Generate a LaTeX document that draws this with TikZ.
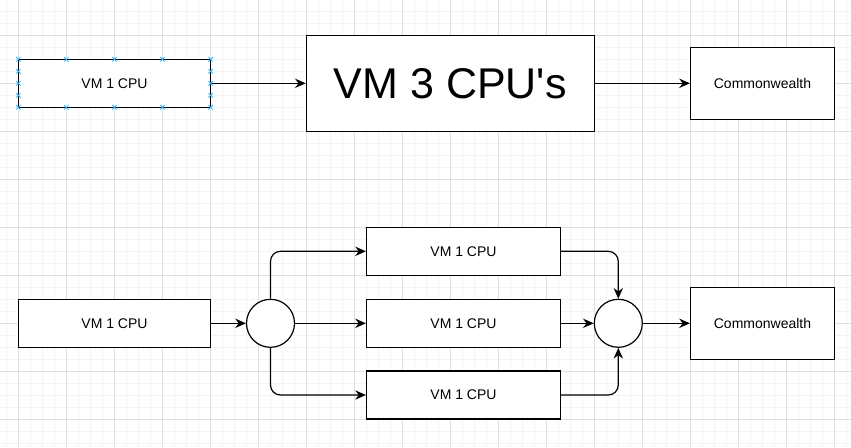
\documentclass[tikz,border=0pt]{standalone}
\usepackage{fontspec}
\setmainfont{Liberation Sans}[Ligatures=TeXOff]
\newfontfamily\arialfont{Liberation Sans}[Ligatures=TeXOff]
\usetikzlibrary{arrows.meta}
\definecolor{gridminor}{HTML}{F4F4F4}
\definecolor{gridmajor}{HTML}{E0E0E0}
\definecolor{handlecol}{HTML}{29B6F2}
\begin{document}
\begin{tikzpicture}[x=0.75pt,y=-0.75pt,
  box/.style={draw, line width=0.9pt, fill=white, inner sep=0pt, font=\arialfont\fontsize{10.5}{12}\selectfont},
  bigbox/.style={box, font=\arialfont\fontsize{32.25}{36}\selectfont},
  hub/.style={draw, circle, line width=0.9pt, fill=white, minimum size=36pt, inner sep=0pt},
  arr/.style={draw, line width=0.9pt, -{Stealth[length=8pt,width=7pt,inset=2.6pt]}},
  elbow/.style={arr, rounded corners=7.5pt},
  hmark/.style={draw=handlecol, line width=0.6pt}]
\fill[white] (0,0) rectangle (851,447);
\useasboundingbox (0,0) rectangle (851,447);
% grid
\foreach \x in {0,...,70} {\draw[gridminor, line width=0.75pt] ({6.3+12*\x},0) -- ({6.3+12*\x},447);}
\foreach \y in {0,...,36} {\draw[gridminor, line width=0.75pt] (0,{11.3+12*\y}) -- (851,{11.3+12*\y});}
\foreach \x in {0,...,17} {\draw[gridmajor, line width=0.75pt] ({18.3+48*\x},0) -- ({18.3+48*\x},447);}
\foreach \y in {0,...,8} {\draw[gridmajor, line width=0.75pt] (0,{35.3+48*\y}) -- (851,{35.3+48*\y});}
% top row
\node[box, minimum width=144.3pt, minimum height=36pt] (A) at (114.5,83.3) {VM 1 CPU};
\node[bigbox, minimum width=216pt, minimum height=72pt] (B) at (450.3,83.3) {VM 3 CPU's};
\node[box, minimum width=108pt, minimum height=54pt] (C) at (762.5,83.3) {Commonwealth};
\draw[arr] (A) -- (B);
\draw[arr] (B) -- (C);
% selection handles on A
\foreach \hx in {18.3,66.3,114.5,162.5,210.7} {
  \foreach \hy in {59.3,107.3} {
    \draw[hmark] (\hx-2.2,\hy-2.2) -- (\hx+2.2,\hy+2.2) (\hx-2.2,\hy+2.2) -- (\hx+2.2,\hy-2.2);
  }
}
\foreach \hx in {18.3,210.7} {
  \foreach \hy in {71.3,83.3,95.3} {
    \draw[hmark] (\hx-2.2,\hy-2.2) -- (\hx+2.2,\hy+2.2) (\hx-2.2,\hy+2.2) -- (\hx+2.2,\hy-2.2);
  }
}
% bottom row
\node[box, minimum width=144.3pt, minimum height=36pt] (D) at (114.5,323.3) {VM 1 CPU};
\node[hub] (c1) at (270.5,323.3) {};
\node[box, minimum width=145.5pt, minimum height=36pt] (E) at (463.5,251.3) {VM 1 CPU};
\node[box, minimum width=145.5pt, minimum height=36pt] (F) at (463.5,323.3) {VM 1 CPU};
\node[box, minimum width=145.5pt, minimum height=36pt] (G) at (463.5,395) {VM 1 CPU};
\node[hub] (c2) at (618.3,323.3) {};
\node[box, minimum width=108pt, minimum height=54pt] (H) at (762.5,323.3) {Commonwealth};
\draw[arr] (D) -- (c1);
\draw[elbow] (c1.north) |- (E.west);
\draw[arr] (c1) -- (F);
\draw[elbow] (c1.south) |- (G.west);
\draw[elbow] (E.east) -| (c2.north);
\draw[arr] (F) -- (c2);
\draw[elbow] (G.east) -| (c2.south);
\draw[arr] (c2) -- (H);
\end{tikzpicture}
\end{document}
